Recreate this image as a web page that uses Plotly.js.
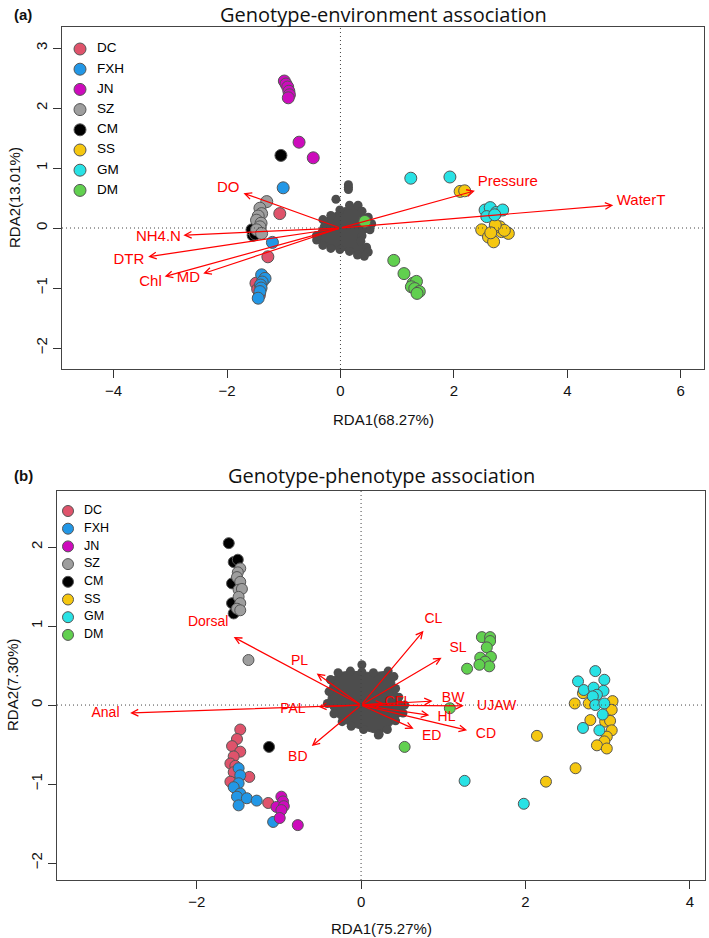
<!DOCTYPE html>
<html>
<head>
<meta charset="utf-8">
<script src="https://cdn.plot.ly/plotly-3.0.1.min.js"></script>
<style>html,body{margin:0;padding:0;background:#fff;}#chart{width:709px;height:938px;}</style>
</head>
<body>
<div id="chart"></div>
<script>
// ---------- categories ----------
const groups = ['DC', 'FXH', 'JN', 'SZ', 'CM', 'SS', 'GM', 'DM'];
const groupColors = ['#DF536B', '#2297E6', '#CD0BBC', '#9E9E9E', '#000000', '#F5C710', '#28E2E5', '#61D04F'];
const drawOrder = ['DC', 'FXH', 'JN', 'CM', 'SZ', 'SS', 'GM', 'DM'];

// ---------- panel (a): site scores ----------
const a_DC_x = [-1.07, -1.28, -1.49, -1.46, -1.43];
const a_DC_y = [0.24, -0.48, -0.92, -1.02, -1.12];
const a_FXH_x = [-1.01, -1.20, -1.39, -1.33, -1.38, -1.41, -1.40, -1.42, -1.45];
const a_FXH_y = [0.67, -0.24, -0.78, -0.84, -0.90, -0.95, -1.00, -1.06, -1.17];
const a_JN_x = [-0.99, -0.96, -0.93, -0.91, -0.90, -0.92, -0.73, -0.48];
const a_JN_y = [2.45, 2.40, 2.35, 2.28, 2.22, 2.17, 1.43, 1.17];
const a_SZ_x = [-1.30, -1.42, -1.39, -1.45, -1.48, -1.40, -1.42, -1.48, -1.39];
const a_SZ_y = [0.44, 0.33, 0.24, 0.20, 0.13, 0.08, 0.02, -0.03, -0.09];
const a_CM_x = [-1.05, -1.54, -1.56, -1.50];
const a_CM_y = [1.21, -0.12, -0.03, -0.10];
const a_SS_x = [2.11, 2.19, 2.49, 2.61, 2.70, 2.84, 2.96, 2.81, 2.89, 2.73, 2.65];
const a_SS_y = [0.61, 0.62, -0.03, -0.15, -0.23, -0.06, -0.09, 0.02, -0.04, 0.05, -0.08];
const a_GM_x = [1.24, 1.93, 2.55, 2.64, 2.75, 2.86, 2.58, 2.72];
const a_GM_y = [0.83, 0.85, 0.30, 0.34, 0.26, 0.30, 0.19, 0.22];
const a_DM_x = [0.43, 0.94, 1.12, 1.28, 1.34, 1.25, 1.31, 1.39, 1.35];
const a_DM_y = [0.11, -0.54, -0.76, -0.92, -0.89, -0.98, -1.01, -1.06, -1.09];

// panel (a): SNP cloud (outline of the dense point mass) and isolated SNPs
const a_snpOutline_x = [-0.42, -0.31, -0.17, -0.01, 0.16, 0.31, 0.38, 0.49, 0.55, 0.52, 0.38, 0.36, 0.46, 0.49, 0.42, 0.30, 0.16, -0.01, -0.17, -0.31, -0.42];
const a_snpOutline_y = [-0.13, 0.14, 0.21, 0.30, 0.38, 0.38, 0.28, 0.18, 0.07, -0.03, -0.13, -0.22, -0.32, -0.40, -0.47, -0.45, -0.39, -0.36, -0.34, -0.29, -0.20];
const a_snpExtra_x = [0.14, 0.14, 0.14, -0.08];
const a_snpExtra_y = [0.72, 0.68, 0.64, 0.48];

// panel (a): environmental biplot arrows
const a_envNames = ['WaterT', 'Pressure', 'DO', 'NH4.N', 'DTR', 'Chl', 'MD'];
const a_envX = [4.81, 2.37, -1.71, -2.77, -3.39, -3.10, -2.42];
const a_envY = [0.38, 0.62, 0.58, -0.12, -0.48, -0.81, -0.76];
const a_envLabelX = [5.30, 2.95, -1.98, -3.21, -3.73, -3.35, -2.68];
const a_envLabelY = [0.44, 0.77, 0.66, -0.15, -0.53, -0.91, -0.84];

// ---------- panel (b): site scores ----------
const b_DC_x = [-1.47, -1.51, -1.57, -1.47, -1.55, -1.59, -1.53, -1.55, -1.59, -1.36, -1.13];
const b_DC_y = [-0.31, -0.43, -0.52, -0.59, -0.65, -0.74, -0.77, -0.85, -0.97, -0.91, -1.24];
const b_FXH_x = [-1.49, -1.47, -1.49, -1.55, -1.47, -1.51, -1.39, -1.49, -1.27, -1.07];
const b_FXH_y = [-0.80, -0.89, -0.99, -1.04, -1.12, -1.16, -1.18, -1.27, -1.21, -1.48];
const b_JN_x = [-0.97, -0.95, -1.03, -0.94, -0.97, -0.99, -0.77];
const b_JN_y = [-1.16, -1.22, -1.29, -1.28, -1.33, -1.43, -1.52];
const b_SZ_x = [-1.47, -1.50, -1.51, -1.47, -1.49, -1.45, -1.49, -1.47, -1.51, -1.47, -1.37];
const b_SZ_y = [1.73, 1.68, 1.62, 1.56, 1.46, 1.47, 1.37, 1.29, 1.22, 1.20, 0.57];
const b_CM_x = [-1.61, -1.55, -1.50, -1.57, -1.57, -1.55, -1.12];
const b_CM_y = [2.05, 1.81, 1.84, 1.54, 1.29, 1.16, -0.53];
const b_SS_x = [2.60, 2.70, 3.06, 3.05, 2.79, 2.97, 3.03, 3.05, 2.99, 2.96, 2.87, 2.99, 2.77, 2.14, 2.61, 2.25];
const b_SS_y = [0.02, 0.15, 0.05, -0.06, -0.19, -0.21, -0.20, -0.32, -0.40, -0.46, -0.51, -0.55, 0.02, -0.39, -0.80, -0.97];
const b_GM_x = [2.85, 2.64, 2.96, 2.71, 2.83, 2.95, 2.87, 2.82, 2.85, 2.96, 2.94, 2.90, 2.70, 1.26, 1.98];
const b_GM_y = [0.43, 0.30, 0.32, 0.19, 0.22, 0.18, 0.13, 0.11, 0.00, 0.02, -0.12, -0.32, -0.29, -0.96, -1.25];
const b_DM_x = [1.47, 1.57, 1.57, 1.53, 1.45, 1.58, 1.51, 1.56, 1.44, 1.29, 1.08, 0.53];
const b_DM_y = [0.86, 0.86, 0.81, 0.73, 0.60, 0.61, 0.55, 0.49, 0.51, 0.46, -0.04, -0.53];

// panel (b): SNP cloud outline and isolated SNPs
const b_snpOutline_x = [-0.37, -0.28, -0.13, 0.01, 0.15, 0.33, 0.40, 0.42, 0.46, 0.53, 0.51, 0.42, 0.32, 0.22, 0.03, -0.12, -0.23, -0.33, -0.41, -0.39];
const b_snpOutline_y = [0.32, 0.41, 0.43, 0.42, 0.41, 0.43, 0.36, 0.21, 0.10, 0.00, -0.10, -0.20, -0.31, -0.37, -0.31, -0.27, -0.21, -0.11, 0.02, 0.17];
const b_snpExtra_x = [0.01, 0.21];
const b_snpExtra_y = [0.51, -0.38];

// panel (b): phenotype biplot arrows
const b_phenoNames = ['CL', 'SL', 'BW', 'UJAW', 'HL', 'CD', 'ED', 'CFL', 'PAL', 'Anal', 'Dorsal', 'PL', 'BD'];
const b_phenoX = [0.76, 0.98, 0.87, 1.25, 0.83, 1.29, 0.64, 0.28, -0.52, -2.81, -1.55, -0.54, -0.60];
const b_phenoY = [0.94, 0.60, 0.05, -0.01, -0.13, -0.32, -0.30, 0.02, -0.02, -0.10, 0.86, 0.40, -0.52];
const b_phenoLabelX = [0.88, 1.18, 1.12, 1.65, 1.04, 1.52, 0.86, 0.45, -0.83, -3.11, -1.86, -0.75, -0.77];
const b_phenoLabelY = [1.08, 0.72, 0.08, -0.02, -0.16, -0.37, -0.40, 0.03, -0.05, -0.11, 1.04, 0.55, -0.67];

// ---------- tick labels ----------
const a_xTicks = [-4, -2, 0, 2, 4, 6];
const a_yTicks = [-2, -1, 0, 1, 2, 3];
const b_xTicks = [-2, 0, 2, 4];
const b_yTicks = [-2, -1, 0, 1, 2];

// ---------- build ----------
const W = 709, H = 938;
const SNP = '#4D4D4D';
const RED = '#FF0000';
const FONT = 'Liberation Sans, Arial, sans-serif';
const panels = {
  a: {x: 'x', y: 'y', lx: 'x3', ly: 'y3', box: [62, 704, 27, 369], range: [[-4.91, 6.41], [-2.35, 3.35]],
      msize: 12, lblSize: 15, legSize: 13.5, legX: 80, legTextX: 97, legY0: 49, legDy: 20.2,
      data: {DC: [a_DC_x, a_DC_y], FXH: [a_FXH_x, a_FXH_y], JN: [a_JN_x, a_JN_y], SZ: [a_SZ_x, a_SZ_y], CM: [a_CM_x, a_CM_y], SS: [a_SS_x, a_SS_y], GM: [a_GM_x, a_GM_y], DM: [a_DM_x, a_DM_y]},
      outline: [a_snpOutline_x, a_snpOutline_y], extra: [a_snpExtra_x, a_snpExtra_y],
      arrows: [a_envNames, a_envX, a_envY, a_envLabelX, a_envLabelY]},
  b: {x: 'x2', y: 'y2', lx: 'x4', ly: 'y4', box: [57, 705, 491, 880], range: [[-3.70, 4.185], [-2.215, 2.71]],
      msize: 11, lblSize: 14, legSize: 12.5, legX: 68, legTextX: 84, legY0: 511, legDy: 17.7,
      data: {DC: [b_DC_x, b_DC_y], FXH: [b_FXH_x, b_FXH_y], JN: [b_JN_x, b_JN_y], SZ: [b_SZ_x, b_SZ_y], CM: [b_CM_x, b_CM_y], SS: [b_SS_x, b_SS_y], GM: [b_GM_x, b_GM_y], DM: [b_DM_x, b_DM_y]},
      outline: [b_snpOutline_x, b_snpOutline_y], extra: [b_snpExtra_x, b_snpExtra_y],
      arrows: [b_phenoNames, b_phenoX, b_phenoY, b_phenoLabelX, b_phenoLabelY]}
};

const traces = [];
const annotations = [];
const shapes = [];

Object.keys(panels).forEach(k => {
  const p = panels[k];
  // SNP cloud
  traces.push({type: 'scatter', mode: 'lines+markers', xaxis: p.x, yaxis: p.y,
    x: p.outline[0].concat([p.outline[0][0]]), y: p.outline[1].concat([p.outline[1][0]]),
    fill: 'toself', fillcolor: SNP, line: {color: SNP, width: 1},
    marker: {size: 9, color: SNP}, hoverinfo: 'skip', showlegend: false});
  traces.push({type: 'scatter', mode: 'markers', xaxis: p.x, yaxis: p.y,
    x: p.extra[0], y: p.extra[1], marker: {size: 9, color: SNP}, hoverinfo: 'skip', showlegend: false});
  // site points
  drawOrder.forEach(g => {
    const i = groups.indexOf(g);
    traces.push({type: 'scatter', mode: 'markers', xaxis: p.x, yaxis: p.y, name: g,
      x: p.data[g][0], y: p.data[g][1],
      marker: {size: p.msize, color: groupColors[i], line: {color: '#555555', width: 1}}, showlegend: false});
  });
  // arrow labels
  const [names, ax, ay, lx, ly] = p.arrows;
  traces.push({type: 'scatter', mode: 'text', xaxis: p.x, yaxis: p.y, x: lx, y: ly, text: names,
    textposition: 'middle center', textfont: {family: FONT, size: p.lblSize, color: RED}, hoverinfo: 'skip', showlegend: false});
  names.forEach((n, i) => {
    annotations.push({xref: p.x, yref: p.y, axref: p.x, ayref: p.y, x: ax[i], y: ay[i], ax: 0, ay: 0,
      text: '', showarrow: true, arrowhead: 5, arrowsize: 1.1, arrowwidth: 1.2, arrowcolor: RED, standoff: 0, startstandoff: 0});
  });
  // legend (overlay pixel axes)
  const ly0 = groups.map((g, i) => p.legY0 + i * p.legDy);
  traces.push({type: 'scatter', mode: 'markers', xaxis: p.lx, yaxis: p.ly, x: groups.map(() => p.legX), y: ly0,
    marker: {size: p.msize, color: groupColors, line: {color: '#555555', width: 1}}, hoverinfo: 'skip', showlegend: false});
  traces.push({type: 'scatter', mode: 'text', xaxis: p.lx, yaxis: p.ly, x: groups.map(() => p.legTextX), y: ly0, text: groups,
    textposition: 'middle right', textfont: {family: FONT, size: p.legSize, color: '#000'}, hoverinfo: 'skip', showlegend: false});
  // dotted zero lines
  shapes.push({type: 'line', xref: p.x, yref: p.y + ' domain', x0: 0, x1: 0, y0: 0, y1: 1, line: {color: '#444', width: 1, dash: '1px,3px'}});
  shapes.push({type: 'line', xref: p.x + ' domain', yref: p.y, x0: 0, x1: 1, y0: 0, y1: 0, line: {color: '#444', width: 1, dash: '1px,3px'}});
});

function axisBase(domain, range, ticks, angle) {
  return {domain: domain, range: range, tickmode: 'array', tickvals: ticks, ticktext: ticks.map(t => (t < 0 ? '\u2212' + Math.abs(t) : String(t))),
    ticks: 'outside', ticklen: 8, tickwidth: 1, tickcolor: '#333', showline: true, mirror: true, linecolor: '#444', linewidth: 1.4,
    showgrid: false, zeroline: false, tickangle: angle, tickfont: {family: FONT, size: 15, color: '#111'}, fixedrange: true};
}
function dom(p) {
  return {x: [p.box[0] / W, p.box[1] / W], y: [1 - p.box[3] / H, 1 - p.box[2] / H]};
}
const da = dom(panels.a), db = dom(panels.b);

const layout = {
  width: W, height: H, margin: {l: 0, r: 0, t: 0, b: 0}, paper_bgcolor: '#fff', plot_bgcolor: 'rgba(0,0,0,0)', showlegend: false,
  xaxis: Object.assign(axisBase(da.x, panels.a.range[0], a_xTicks, 0), {anchor: 'y'}),
  yaxis: Object.assign(axisBase(da.y, panels.a.range[1], a_yTicks, -90), {anchor: 'x'}),
  xaxis2: Object.assign(axisBase(db.x, panels.b.range[0], b_xTicks, 0), {anchor: 'y2'}),
  yaxis2: Object.assign(axisBase(db.y, panels.b.range[1], b_yTicks, -90), {anchor: 'x2'}),
  xaxis3: {domain: da.x, range: [panels.a.box[0], panels.a.box[1]], visible: false, anchor: 'y3', fixedrange: true},
  yaxis3: {domain: da.y, range: [panels.a.box[3], panels.a.box[2]], visible: false, anchor: 'x3', fixedrange: true},
  xaxis4: {domain: db.x, range: [panels.b.box[0], panels.b.box[1]], visible: false, anchor: 'y4', fixedrange: true},
  yaxis4: {domain: db.y, range: [panels.b.box[3], panels.b.box[2]], visible: false, anchor: 'x4', fixedrange: true},
  shapes: shapes,
  annotations: annotations.concat([
    {xref: 'paper', yref: 'paper', x: 12 / W, y: 1 - 14 / H, xanchor: 'left', yanchor: 'middle', showarrow: false, text: '<b>(a)</b>', font: {family: FONT, size: 15, color: '#111'}},
    {xref: 'paper', yref: 'paper', x: 383 / W, y: 1 - 14 / H, xanchor: 'center', yanchor: 'middle', showarrow: false, text: 'Genotype-environment association', font: {family: 'Open Sans, sans-serif', size: 20, color: '#111'}},
    {xref: 'paper', yref: 'paper', x: 383 / W, y: 1 - 420 / H, xanchor: 'center', yanchor: 'middle', showarrow: false, text: 'RDA1(68.27%)', font: {family: FONT, size: 15, color: '#111'}},
    {xref: 'paper', yref: 'paper', x: 14 / W, y: 1 - 198 / H, xanchor: 'center', yanchor: 'middle', showarrow: false, textangle: -90, text: 'RDA2(13.01%)', font: {family: FONT, size: 15, color: '#111'}},
    {xref: 'paper', yref: 'paper', x: 12 / W, y: 1 - 475 / H, xanchor: 'left', yanchor: 'middle', showarrow: false, text: '<b>(b)</b>', font: {family: FONT, size: 15, color: '#111'}},
    {xref: 'paper', yref: 'paper', x: 381 / W, y: 1 - 475 / H, xanchor: 'center', yanchor: 'middle', showarrow: false, text: 'Genotype-phenotype association', font: {family: 'Open Sans, sans-serif', size: 20, color: '#111'}},
    {xref: 'paper', yref: 'paper', x: 381 / W, y: 1 - 928 / H, xanchor: 'center', yanchor: 'middle', showarrow: false, text: 'RDA1(75.27%)', font: {family: FONT, size: 15, color: '#111'}},
    {xref: 'paper', yref: 'paper', x: 12 / W, y: 1 - 685 / H, xanchor: 'center', yanchor: 'middle', showarrow: false, textangle: -90, text: 'RDA2(7.30%)', font: {family: FONT, size: 15, color: '#111'}}
  ])
};

Plotly.newPlot('chart', traces, layout, {staticPlot: true, displayModeBar: false});
</script>
</body>
</html>
